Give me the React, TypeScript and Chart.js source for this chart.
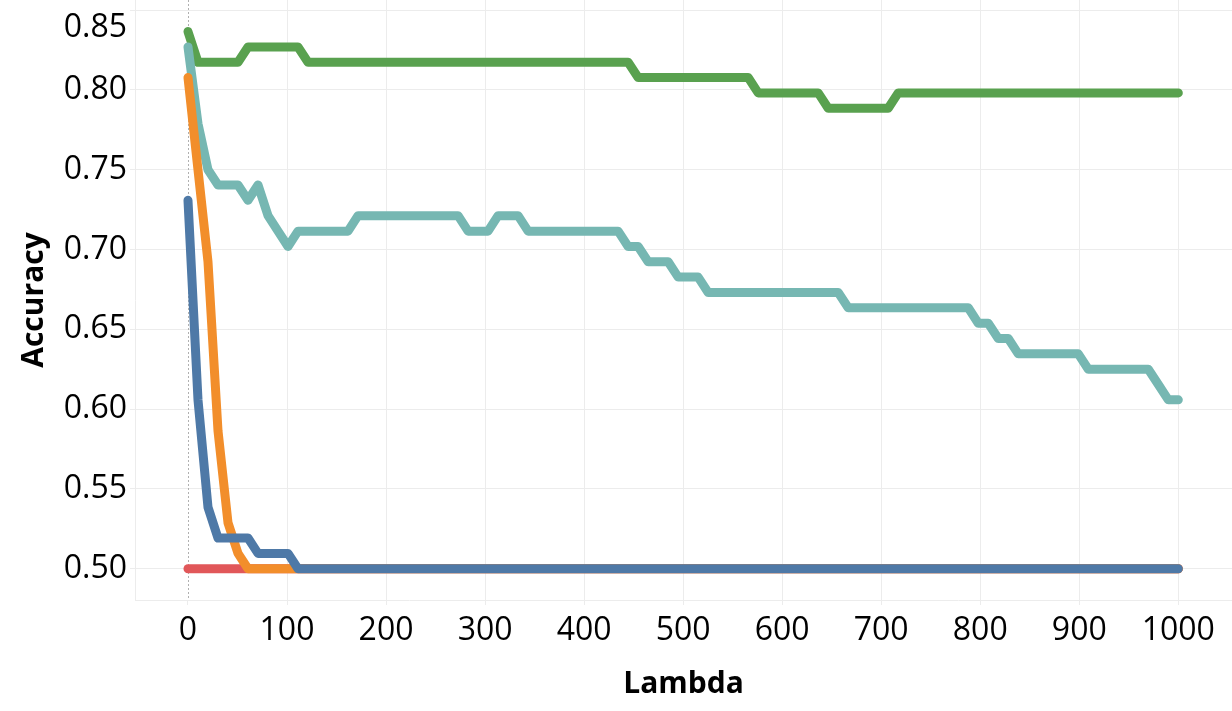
import { useEffect, useRef } from 'react'
import { Chart, registerables } from 'chart.js'

Chart.register(...registerables)

// 100 lambda values, evenly spaced from 0 to 1000
const lambdas = [
  0, 10.1, 20.2, 30.3, 40.4, 50.51, 60.61, 70.71, 80.81, 90.91,
  101.01, 111.11, 121.21, 131.31, 141.41, 151.52, 161.62, 171.72, 181.82, 191.92,
  202.02, 212.12, 222.22, 232.32, 242.42, 252.53, 262.63, 272.73, 282.83, 292.93,
  303.03, 313.13, 323.23, 333.33, 343.43, 353.54, 363.64, 373.74, 383.84, 393.94,
  404.04, 414.14, 424.24, 434.34, 444.44, 454.55, 464.65, 474.75, 484.85, 494.95,
  505.05, 515.15, 525.25, 535.35, 545.45, 555.56, 565.66, 575.76, 585.86, 595.96,
  606.06, 616.16, 626.26, 636.36, 646.46, 656.57, 666.67, 676.77, 686.87, 696.97,
  707.07, 717.17, 727.27, 737.37, 747.47, 757.58, 767.68, 777.78, 787.88, 797.98,
  808.08, 818.18, 828.28, 838.38, 848.48, 858.59, 868.69, 878.79, 888.89, 898.99,
  909.09, 919.19, 929.29, 939.39, 949.49, 959.6, 969.7, 979.8, 989.9, 1000,
]

const greenAcc = [
  0.8365, 0.8173, 0.8173, 0.8173, 0.8173, 0.8173, 0.8269, 0.8269, 0.8269, 0.8269,
  0.8269, 0.8269, 0.8173, 0.8173, 0.8173, 0.8173, 0.8173, 0.8173, 0.8173, 0.8173,
  0.8173, 0.8173, 0.8173, 0.8173, 0.8173, 0.8173, 0.8173, 0.8173, 0.8173, 0.8173,
  0.8173, 0.8173, 0.8173, 0.8173, 0.8173, 0.8173, 0.8173, 0.8173, 0.8173, 0.8173,
  0.8173, 0.8173, 0.8173, 0.8173, 0.8173, 0.8077, 0.8077, 0.8077, 0.8077, 0.8077,
  0.8077, 0.8077, 0.8077, 0.8077, 0.8077, 0.8077, 0.8077, 0.7981, 0.7981, 0.7981,
  0.7981, 0.7981, 0.7981, 0.7981, 0.7885, 0.7885, 0.7885, 0.7885, 0.7885, 0.7885,
  0.7885, 0.7981, 0.7981, 0.7981, 0.7981, 0.7981, 0.7981, 0.7981, 0.7981, 0.7981,
  0.7981, 0.7981, 0.7981, 0.7981, 0.7981, 0.7981, 0.7981, 0.7981, 0.7981, 0.7981,
  0.7981, 0.7981, 0.7981, 0.7981, 0.7981, 0.7981, 0.7981, 0.7981, 0.7981, 0.7981,
]

const tealAcc = [
  0.8269, 0.7788, 0.7500, 0.7404, 0.7404, 0.7404, 0.7308, 0.7404, 0.7212, 0.7115,
  0.7019, 0.7115, 0.7115, 0.7115, 0.7115, 0.7115, 0.7115, 0.7212, 0.7212, 0.7212,
  0.7212, 0.7212, 0.7212, 0.7212, 0.7212, 0.7212, 0.7212, 0.7212, 0.7115, 0.7115,
  0.7115, 0.7212, 0.7212, 0.7212, 0.7115, 0.7115, 0.7115, 0.7115, 0.7115, 0.7115,
  0.7115, 0.7115, 0.7115, 0.7115, 0.7019, 0.7019, 0.6923, 0.6923, 0.6923, 0.6827,
  0.6827, 0.6827, 0.6731, 0.6731, 0.6731, 0.6731, 0.6731, 0.6731, 0.6731, 0.6731,
  0.6731, 0.6731, 0.6731, 0.6731, 0.6731, 0.6731, 0.6635, 0.6635, 0.6635, 0.6635,
  0.6635, 0.6635, 0.6635, 0.6635, 0.6635, 0.6635, 0.6635, 0.6635, 0.6635, 0.6538,
  0.6538, 0.6442, 0.6442, 0.6346, 0.6346, 0.6346, 0.6346, 0.6346, 0.6346, 0.6346,
  0.6250, 0.6250, 0.6250, 0.6250, 0.6250, 0.6250, 0.6250, 0.6154, 0.6058, 0.6058,
]

const orangeAcc = [
  0.8077, 0.7500, 0.6923, 0.5865, 0.5288, 0.5096, 0.5, 0.5, 0.5, 0.5,
  0.5, 0.5, 0.5, 0.5, 0.5, 0.5, 0.5, 0.5, 0.5, 0.5,
  0.5, 0.5, 0.5, 0.5, 0.5, 0.5, 0.5, 0.5, 0.5, 0.5,
  0.5, 0.5, 0.5, 0.5, 0.5, 0.5, 0.5, 0.5, 0.5, 0.5,
  0.5, 0.5, 0.5, 0.5, 0.5, 0.5, 0.5, 0.5, 0.5, 0.5,
  0.5, 0.5, 0.5, 0.5, 0.5, 0.5, 0.5, 0.5, 0.5, 0.5,
  0.5, 0.5, 0.5, 0.5, 0.5, 0.5, 0.5, 0.5, 0.5, 0.5,
  0.5, 0.5, 0.5, 0.5, 0.5, 0.5, 0.5, 0.5, 0.5, 0.5,
  0.5, 0.5, 0.5, 0.5, 0.5, 0.5, 0.5, 0.5, 0.5, 0.5,
  0.5, 0.5, 0.5, 0.5, 0.5, 0.5, 0.5, 0.5, 0.5, 0.5,
]

const blueAcc = [
  0.7308, 0.6058, 0.5385, 0.5192, 0.5192, 0.5192, 0.5192, 0.5096, 0.5096, 0.5096,
  0.5096, 0.5, 0.5, 0.5, 0.5, 0.5, 0.5, 0.5, 0.5, 0.5,
  0.5, 0.5, 0.5, 0.5, 0.5, 0.5, 0.5, 0.5, 0.5, 0.5,
  0.5, 0.5, 0.5, 0.5, 0.5, 0.5, 0.5, 0.5, 0.5, 0.5,
  0.5, 0.5, 0.5, 0.5, 0.5, 0.5, 0.5, 0.5, 0.5, 0.5,
  0.5, 0.5, 0.5, 0.5, 0.5, 0.5, 0.5, 0.5, 0.5, 0.5,
  0.5, 0.5, 0.5, 0.5, 0.5, 0.5, 0.5, 0.5, 0.5, 0.5,
  0.5, 0.5, 0.5, 0.5, 0.5, 0.5, 0.5, 0.5, 0.5, 0.5,
  0.5, 0.5, 0.5, 0.5, 0.5, 0.5, 0.5, 0.5, 0.5, 0.5,
  0.5, 0.5, 0.5, 0.5, 0.5, 0.5, 0.5, 0.5, 0.5, 0.5,
]

const redAcc = [
  0.5, 0.5, 0.5, 0.5, 0.5, 0.5, 0.5, 0.5, 0.5, 0.5,
  0.5, 0.5, 0.5, 0.5, 0.5, 0.5, 0.5, 0.5, 0.5, 0.5,
  0.5, 0.5, 0.5, 0.5, 0.5, 0.5, 0.5, 0.5, 0.5, 0.5,
  0.5, 0.5, 0.5, 0.5, 0.5, 0.5, 0.5, 0.5, 0.5, 0.5,
  0.5, 0.5, 0.5, 0.5, 0.5, 0.5, 0.5, 0.5, 0.5, 0.5,
  0.5, 0.5, 0.5, 0.5, 0.5, 0.5, 0.5, 0.5, 0.5, 0.5,
  0.5, 0.5, 0.5, 0.5, 0.5, 0.5, 0.5, 0.5, 0.5, 0.5,
  0.5, 0.5, 0.5, 0.5, 0.5, 0.5, 0.5, 0.5, 0.5, 0.5,
  0.5, 0.5, 0.5, 0.5, 0.5, 0.5, 0.5, 0.5, 0.5, 0.5,
  0.5, 0.5, 0.5, 0.5, 0.5, 0.5, 0.5, 0.5, 0.5, 0.5,
]

const xTicks = [0, 100, 200, 300, 400, 500, 600, 700, 800, 900, 1000]
const yTicks = [0.5, 0.55, 0.6, 0.65, 0.7, 0.75, 0.8, 0.85]

const GRID = '#ececec'

// dotted reference line at lambda = 0
const zeroLinePlugin = {
  id: 'zeroLine',
  beforeDatasetsDraw(chart: any) {
    const { ctx, chartArea, scales } = chart
    const x = Math.round(scales.x.getPixelForValue(0)) + 0.5
    ctx.save()
    ctx.strokeStyle = '#b0b0b0'
    ctx.lineWidth = 1
    ctx.setLineDash([2, 2])
    ctx.beginPath()
    ctx.moveTo(x, chartArea.top)
    ctx.lineTo(x, chartArea.bottom)
    ctx.stroke()
    ctx.restore()
  },
}

const line = (label: string, values: number[], color: string) => ({
  label,
  data: lambdas.map((x, i) => ({ x, y: values[i] })),
  borderColor: color,
  backgroundColor: color,
  borderWidth: 9,
  borderCapStyle: 'round' as const,
  borderJoinStyle: 'round' as const,
  pointRadius: 0,
  tension: 0,
  fill: false,
})

const App = () => {
  const canvasRef = useRef<HTMLCanvasElement>(null)

  useEffect(() => {
    document.body.style.margin = '0'
    if (!canvasRef.current) return

    const chart = new Chart(canvasRef.current, {
      type: 'line',
      data: {
        datasets: [
          line('Model 1', blueAcc, '#4e79a7'),
          line('Model 2', orangeAcc, '#f28e2b'),
          line('Model 3', redAcc, '#e15759'),
          line('Model 4', tealAcc, '#76b7b2'),
          line('Model 5', greenAcc, '#59a14f'),
        ],
      },
      options: {
        animation: false,
        responsive: true,
        maintainAspectRatio: false,
        layout: { padding: 0 },
        plugins: {
          legend: { display: false },
          tooltip: { enabled: false },
        },
        scales: {
          x: {
            type: 'linear',
            min: -53.5,
            max: 1054.2,
            afterBuildTicks: (scale: any) => {
              scale.ticks = xTicks.map((value) => ({ value }))
            },
            afterFit: (scale: any) => {
              scale.height = 111
            },
            grid: {
              color: (ctx: any) => (ctx.tick && ctx.tick.value === 0 ? 'rgba(0,0,0,0)' : GRID),
              tickColor: GRID,
              tickLength: 5,
              lineWidth: 1,
            },
            border: { color: GRID },
            ticks: {
              color: '#000',
              padding: 7,
              maxRotation: 0,
              font: { family: '"Open Sans", sans-serif', size: 32 },
              callback: (value: any) => String(value),
            },
            title: {
              display: true,
              text: 'Lambda',
              color: '#000',
              padding: { top: 0, bottom: 9 },
              font: { family: '"Open Sans", sans-serif', size: 30, weight: 'bold' },
            },
          },
          y: {
            type: 'linear',
            min: 0.4804,
            max: 0.8563,
            afterBuildTicks: (scale: any) => {
              scale.ticks = yTicks.map((value) => ({ value }))
            },
            afterFit: (scale: any) => {
              scale.width = 135
              scale.paddingTop = 0
              scale.paddingBottom = 0
            },
            grid: {
              color: GRID,
              tickColor: GRID,
              tickLength: 5,
              lineWidth: 1,
            },
            border: { color: GRID },
            ticks: {
              color: '#000',
              padding: 3,
              font: { family: '"Open Sans", sans-serif', size: 32, lineHeight: 1.1 },
              // the top label sits below its grid line, as in the original
              callback: (value: any, index: number, ticks: any[]) =>
                index === ticks.length - 1 ? ['', Number(value).toFixed(2)] : Number(value).toFixed(2),
            },
            title: {
              display: true,
              text: 'Accuracy',
              color: '#000',
              padding: { top: 16, bottom: 0 },
              font: { family: '"Open Sans", sans-serif', size: 30, weight: 'bold' },
            },
          },
        },
      },
      plugins: [zeroLinePlugin],
    })

    return () => {
      chart.destroy()
    }
  }, [])

  return (
    <div style={{ width: 1232, height: 711, position: 'relative' }}>
      <canvas ref={canvasRef}></canvas>
    </div>
  )
}

export default App
